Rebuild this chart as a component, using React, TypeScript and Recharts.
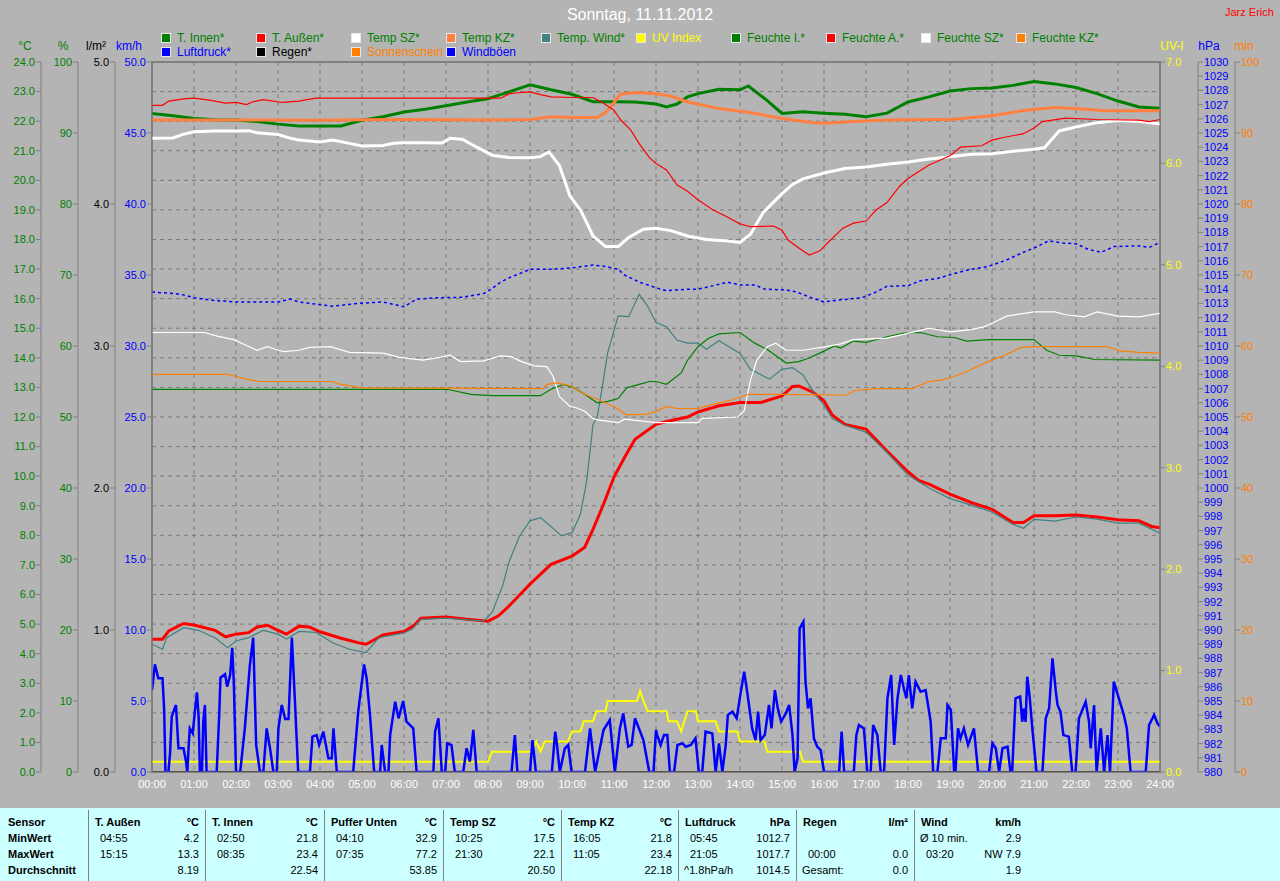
import React from 'react';
import { LineChart, Line, XAxis, YAxis, CartesianGrid, ReferenceArea } from 'recharts';

type Pt = [number, number];

// hour of day -> value
const T_INNEN: Pt[] = [[0,22.26],[0.5,22.18],[1,22.09],[1.5,22.05],[2,22.04],[2.5,21.99],[3,21.9],[3.5,21.84],[4,21.84],[4.5,21.84],[5,22.03],[5.5,22.15],[6,22.31],[6.5,22.4],[7,22.52],[7.5,22.65],[8,22.76],[8.5,22.99],[9,23.23],[9.5,23.06],[10,22.91],[10.5,22.66],[11,22.66],[11.5,22.65],[12,22.58],[12.25,22.48],[12.5,22.58],[12.75,22.82],[13,22.93],[13.5,23.08],[14,23.06],[14.2,23.19],[14.6,22.75],[15,22.26],[15.5,22.32],[16,22.27],[16.5,22.23],[17,22.15],[17.5,22.27],[18,22.65],[18.5,22.82],[19,23.02],[19.5,23.1],[20,23.12],[20.5,23.21],[21,23.34],[21.5,23.26],[22,23.14],[22.5,22.93],[23,22.68],[23.5,22.48],[24,22.44]];

const T_AUSSEN: Pt[] = [[0,4.49],[0.25,4.49],[0.4,4.77],[0.75,5.02],[1,4.97],[1.5,4.79],[1.75,4.57],[2,4.66],[2.3,4.71],[2.5,4.9],[2.75,4.96],[3,4.79],[3.2,4.66],[3.5,4.93],[3.75,4.9],[4,4.74],[4.5,4.52],[5,4.34],[5.1,4.32],[5.5,4.63],[6,4.75],[6.25,4.97],[6.4,5.2],[7,5.24],[7.5,5.16],[8,5.1],[8.25,5.28],[8.5,5.61],[9,6.35],[9.5,7.02],[10,7.3],[10.3,7.59],[10.5,8.2],[10.75,9.05],[11,9.97],[11.25,10.63],[11.5,11.25],[12,11.75],[12.25,11.85],[12.75,12.0],[13,12.17],[13.5,12.38],[14,12.49],[14.5,12.49],[15,12.71],[15.25,13.03],[15.4,13.05],[15.75,12.83],[16,12.54],[16.2,12.06],[16.5,11.75],[17,11.59],[17.5,10.85],[18,10.15],[18.25,9.86],[18.5,9.73],[19,9.39],[19.5,9.11],[20,8.88],[20.5,8.43],[20.75,8.43],[21,8.66],[21.5,8.66],[22,8.69],[22.5,8.62],[23,8.53],[23.5,8.49],[23.8,8.3],[24,8.26]];

const TEMP_SZ: Pt[] = [[0,21.42],[0.5,21.43],[0.75,21.56],[1,21.64],[1.5,21.67],[2,21.67],[2.3,21.68],[2.5,21.61],[3,21.55],[3.3,21.42],[3.5,21.36],[4,21.3],[4.3,21.36],[4.7,21.25],[5,21.16],[5.5,21.18],[5.75,21.25],[6,21.27],[6.5,21.27],[6.9,21.26],[7.1,21.42],[7.4,21.38],[7.6,21.22],[7.8,21.07],[8.1,20.85],[8.5,20.77],[9,20.76],[9.25,20.8],[9.45,20.96],[9.7,20.5],[9.95,19.47],[10.2,19.0],[10.35,18.57],[10.5,18.12],[10.8,17.76],[11.1,17.76],[11.35,18.07],[11.7,18.35],[12,18.38],[12.35,18.3],[12.75,18.12],[13.2,18.0],[13.7,17.95],[14,17.9],[14.25,18.18],[14.55,18.91],[15,19.55],[15.25,19.86],[15.5,20.05],[16,20.25],[16.5,20.4],[17,20.45],[17.5,20.54],[18,20.62],[18.5,20.72],[19,20.8],[19.5,20.88],[20,20.9],[20.5,20.98],[21,21.05],[21.25,21.1],[21.4,21.35],[21.6,21.67],[22,21.8],[22.5,21.95],[23,22.02],[23.5,22.0],[24,21.9]];

const TEMP_KZ: Pt[] = [[0,22.04],[2,22.04],[4,22.03],[5,22.05],[6,22.06],[7,22.05],[8,22.04],[9,22.06],[9.5,22.15],[10,22.12],[10.6,22.12],[10.8,22.29],[11,22.63],[11.15,22.91],[11.5,22.97],[12,22.93],[12.35,22.85],[12.75,22.65],[13.5,22.43],[14.25,22.29],[15,22.09],[15.75,21.95],[16,21.93],[16.7,21.99],[17.5,22.04],[18.5,22.06],[19,22.06],[20,22.18],[20.8,22.37],[21.5,22.46],[22,22.43],[22.7,22.35],[24,22.35]];

const TEMP_WIND: Pt[] = [[0,4.32],[0.25,4.15],[0.35,4.54],[0.75,4.88],[1.1,4.79],[1.5,4.54],[1.8,4.2],[2,4.43],[2.3,4.54],[2.65,4.79],[3,4.66],[3.2,4.49],[3.5,4.75],[3.9,4.72],[4.3,4.37],[4.7,4.15],[5.1,4.04],[5.4,4.54],[6,4.7],[6.2,4.83],[6.4,5.16],[7,5.2],[7.9,5.1],[8.1,5.4],[8.35,6.3],[8.5,7.1],[8.75,7.98],[9,8.49],[9.25,8.6],[9.5,8.3],[9.75,7.98],[10,8.09],[10.2,8.71],[10.35,9.84],[10.5,11.75],[10.6,12.0],[10.7,12.83],[10.85,14.18],[11.1,15.42],[11.35,15.39],[11.6,16.15],[11.8,15.75],[12,15.19],[12.25,15.05],[12.5,14.6],[12.75,14.5],[13,14.5],[13.2,14.29],[13.5,14.58],[14,14.15],[14.25,13.61],[14.7,13.28],[15,13.61],[15.25,13.67],[15.5,13.42],[15.75,12.85],[16,12.4],[16.2,11.95],[16.5,11.72],[17,11.49],[17.5,10.8],[18,10.04],[18.5,9.6],[19,9.24],[19.5,9.02],[20,8.79],[20.5,8.37],[20.75,8.24],[21,8.54],[21.5,8.48],[22,8.62],[22.5,8.55],[23,8.41],[23.5,8.41],[24,8.07]];

const UV_INDEX: Pt[] = [[0,0.1],[8,0.1],[8.1,0.2],[9.05,0.2],[9.15,0.3],[9.25,0.2],[9.35,0.3],[9.9,0.3],[10,0.4],[10.2,0.4],[10.28,0.5],[10.5,0.5],[10.58,0.6],[10.8,0.6],[10.85,0.7],[11.55,0.7],[11.62,0.8],[11.7,0.7],[11.8,0.6],[12.25,0.6],[12.3,0.5],[12.5,0.5],[12.6,0.4],[12.75,0.6],[12.95,0.6],[13,0.5],[13.42,0.5],[13.5,0.4],[13.94,0.4],[14,0.3],[14.58,0.3],[14.65,0.2],[15.43,0.2],[15.5,0.1],[24,0.1]];

const FEUCHTE_I: Pt[] = [[0,53.9],[7,53.9],[7.1,53.8],[7.6,53.2],[8.1,53.0],[9.25,53.0],[9.5,53.9],[9.8,54.6],[10.05,54.1],[10.3,53.2],[10.6,52.0],[10.85,52.2],[11.1,52.6],[11.3,54.1],[11.6,54.6],[11.85,55.0],[12,55.0],[12.25,54.6],[12.6,56.2],[12.75,58.0],[13,59.9],[13.25,61.1],[13.5,61.7],[14,61.9],[14.35,60.4],[14.65,59.5],[15.1,57.6],[15.4,57.8],[15.6,58.2],[15.9,59.0],[16.25,60.0],[16.4,59.7],[16.7,60.7],[17,60.5],[17.5,61.3],[17.9,61.8],[18.3,61.9],[18.7,61.3],[19.1,61.2],[19.4,60.7],[19.9,60.9],[21,60.9],[21.3,59.4],[21.6,58.7],[22,58.6],[22.45,58.1],[24,58.0]];

const FEUCHTE_A: Pt[] = [[0,93.9],[0.25,93.9],[0.4,94.5],[0.75,94.8],[1,94.9],[1.4,94.6],[1.75,94.2],[2,94.3],[2.25,94.0],[2.4,94.4],[2.65,94.7],[3.1,94.3],[3.5,94.5],[3.9,94.9],[8.3,94.9],[8.5,95.5],[8.75,95.7],[9,95.8],[9.25,95.4],[9.5,95.1],[10,95.0],[10.5,95.0],[10.75,94.2],[11,93.2],[11.15,91.9],[11.4,90.4],[11.6,88.5],[11.85,86.5],[12,85.7],[12.25,84.8],[12.5,82.7],[12.75,81.8],[13,80.6],[13.35,79.2],[13.65,78.3],[14,77.2],[14.25,76.8],[14.8,76.9],[15,76.3],[15.15,74.9],[15.45,73.6],[15.65,72.8],[15.9,73.4],[16.15,74.9],[16.45,76.6],[16.7,77.3],[17,77.6],[17.25,79.2],[17.5,80.2],[17.8,82.5],[18,83.6],[18.5,85.5],[19,86.8],[19.25,88.0],[19.75,88.2],[20,89.0],[20.3,89.4],[20.75,89.9],[21,90.7],[21.2,91.6],[21.75,92.1],[22.5,91.9],[23.5,91.8],[23.75,91.6],[24,91.9]];

const FEUCHTE_SZ: Pt[] = [[0,61.9],[1.25,61.9],[1.55,61.4],[1.95,60.9],[2.2,60.2],[2.5,59.4],[2.75,59.9],[3,59.4],[3.15,59.2],[3.5,59.4],[3.75,59.8],[4.25,59.9],[4.7,59.1],[5.5,59.0],[5.9,58.4],[6.45,58.0],[6.85,58.4],[7.1,58.7],[7.35,57.8],[7.9,57.9],[8.3,58.6],[8.55,58.5],[8.8,57.8],[9.1,57.2],[9.4,57.1],[9.55,55.7],[9.7,52.9],[9.95,51.5],[10.1,51.3],[10.3,50.8],[10.5,49.8],[10.6,49.6],[11.1,49.2],[11.25,49.7],[12,49.2],[13,49.2],[13.1,49.8],[13.95,50.0],[14.1,50.9],[14.25,55.2],[14.4,58.0],[14.65,59.9],[14.85,60.4],[15.1,59.4],[15.5,59.4],[16.05,59.9],[16.4,60.3],[16.7,60.9],[17.5,61.1],[18.3,62.2],[18.5,62.5],[19,62.0],[19.5,62.3],[19.8,62.7],[20,63.2],[20.35,64.2],[21,64.8],[21.5,64.8],[21.75,64.4],[22.2,64.1],[22.5,64.8],[23,64.2],[23.5,64.1],[24,64.6]];

const FEUCHTE_KZ: Pt[] = [[0,56.0],[1.8,56.0],[2,55.7],[2.35,55.2],[2.6,55.0],[4.25,55.0],[4.5,54.6],[5,54.1],[9.3,54.0],[9.4,54.6],[9.65,54.8],[9.95,54.4],[10.3,53.2],[10.65,52.4],[11.05,51.3],[11.3,50.3],[11.8,50.4],[12,50.8],[12.25,51.5],[12.5,51.2],[13,51.2],[13.3,51.7],[13.8,52.4],[14.2,53.2],[14.75,53.2],[16.55,53.1],[16.7,53.7],[17.2,54.0],[18.1,54.0],[18.5,55.0],[18.8,55.2],[19.1,55.7],[19.4,56.4],[19.9,57.8],[20.3,58.7],[20.7,59.8],[21,59.9],[22.75,59.9],[23.05,59.3],[23.5,59.1],[24,59.0]];

const LUFTDRUCK: Pt[] = [[0,1013.8],[0.5,1013.7],[0.75,1013.6],[1,1013.4],[1.5,1013.2],[2,1013.1],[3,1013.1],[3.3,1013.3],[3.5,1013.1],[4.3,1012.8],[4.9,1013.0],[5.5,1013.1],[5.8,1012.9],[6,1012.76],[6.3,1013.3],[6.8,1013.4],[7.4,1013.43],[7.9,1013.7],[8.05,1013.95],[8.3,1014.5],[8.5,1014.8],[8.75,1015.1],[9,1015.4],[9.5,1015.4],[10,1015.5],[10.5,1015.7],[10.8,1015.6],[11.1,1015.4],[11.25,1015.0],[11.6,1014.5],[12,1014.1],[12.25,1013.9],[12.75,1014.0],[13,1014.0],[13.3,1014.2],[13.7,1014.5],[14,1014.3],[14.35,1014.3],[14.6,1014.0],[15.1,1013.95],[15.35,1013.8],[15.7,1013.4],[16,1013.1],[16.4,1013.25],[16.9,1013.4],[17.2,1013.75],[17.5,1014.2],[18,1014.25],[18.3,1014.6],[18.7,1014.75],[19.1,1015.1],[19.5,1015.4],[19.9,1015.6],[20.3,1016.0],[20.75,1016.6],[21,1016.9],[21.35,1017.4],[21.7,1017.25],[22,1017.2],[22.3,1016.8],[22.6,1016.6],[22.9,1017.0],[23.5,1017.05],[23.75,1016.95],[24,1017.3]];

const REGEN: Pt[] = [[0,0],[24,0]];
const SONNENSCHEIN: Pt[] = [[0,0],[24,0]];

const WINDBOEN: Pt[] = [[0,5.77],[0.07,7.58],[0.15,6.6],[0.25,6.6],[0.29,4.37],[0.32,0],[0.39,0],[0.43,1.32],[0.47,3.9],[0.57,4.72],[0.63,1.67],[0.75,1.67],[0.81,0.73],[0.84,0],[0.87,1.67],[0.9,3.07],[0.97,2.72],[1.02,4.25],[1.07,5.61],[1.11,3.9],[1.14,0],[1.19,0],[1.22,3.54],[1.26,4.72],[1.3,0],[1.54,0],[1.6,4.01],[1.63,6.64],[1.74,6.88],[1.79,6.01],[1.86,6.83],[1.91,8.75],[1.95,6.13],[2,0],[2.1,0],[2.21,3.07],[2.33,7.53],[2.41,9.46],[2.48,1.9],[2.57,0],[2.65,0],[2.73,3.07],[2.81,1.67],[2.89,0],[2.97,0],[3.01,3.07],[3.09,4.72],[3.17,3.73],[3.25,3.73],[3.33,9.46],[3.4,5.19],[3.48,0],[3.76,0],[3.82,2.49],[3.92,2.6],[3.98,1.9],[4.08,2.84],[4.2,0.96],[4.28,0.96],[4.32,3.07],[4.4,0],[4.79,0],[4.91,4.25],[5.05,7.58],[5.11,6.6],[5.19,4.01],[5.29,0],[5.43,0],[5.47,1.9],[5.55,0],[5.63,0],[5.67,2.6],[5.79,4.95],[5.87,3.78],[5.98,5.0],[6.06,3.54],[6.22,3.07],[6.3,0],[6.7,0],[6.74,2.84],[6.82,3.78],[6.9,0],[6.98,0],[7.03,2.02],[7.13,1.9],[7.21,0],[7.41,0],[7.49,1.67],[7.57,0.73],[7.65,2.96],[7.73,0],[8.56,0],[8.64,2.6],[8.7,0],[9,0],[9.06,2.25],[9.14,0],[9.52,0],[9.6,2.84],[9.63,2.25],[9.71,0],[9.83,1.67],[9.91,1.9],[9.99,0],[10.31,0],[10.43,3.07],[10.55,0],[10.75,2.96],[10.9,3.66],[11.02,0],[11.14,3.07],[11.22,4.13],[11.34,1.78],[11.42,1.9],[11.5,3.78],[11.7,2.25],[11.84,0],[11.94,0],[12,2.96],[12.03,2.6],[12.11,1.9],[12.19,2.6],[12.27,2.6],[12.33,0],[12.43,0],[12.51,1.9],[12.63,2.02],[12.71,1.78],[12.83,1.9],[12.94,2.37],[13.02,0],[13.1,0],[13.18,2.84],[13.34,2.72],[13.42,0],[13.5,2.02],[13.58,0],[13.66,1.9],[13.71,4.01],[13.82,4.25],[13.92,3.78],[14.02,5.66],[14.1,7.07],[14.17,5.66],[14.29,3.07],[14.37,2.25],[14.43,4.25],[14.49,2.25],[14.59,2.6],[14.69,4.72],[14.75,3.07],[14.83,5.77],[14.9,4.48],[14.98,3.54],[15.09,4.13],[15.17,4.72],[15.25,2.6],[15.3,0],[15.37,0.96],[15.42,10.12],[15.51,10.59],[15.56,6.36],[15.62,4.48],[15.68,5.19],[15.76,2.37],[15.84,1.78],[15.92,1.55],[16,0],[16.36,0],[16.42,2.84],[16.48,0],[16.71,0],[16.77,2.6],[16.83,3.31],[16.95,3.07],[17.03,0],[17.11,0],[17.17,3.31],[17.27,2.6],[17.35,0],[17.43,0],[17.51,5.19],[17.6,6.83],[17.67,1.9],[17.75,5.19],[17.83,6.83],[17.9,5.9],[17.96,5.19],[18.02,6.83],[18.1,4.48],[18.18,6.36],[18.3,5.66],[18.42,5.77],[18.54,3.54],[18.6,0],[18.7,0],[18.78,2.37],[18.9,2.37],[18.94,4.72],[19.02,4.37],[19.1,0],[19.13,0],[19.19,3.07],[19.25,2.37],[19.33,3.07],[19.43,1.9],[19.57,3.07],[19.67,0],[19.93,0],[20.01,2.02],[20.09,1.67],[20.17,0],[20.25,1.67],[20.37,1.78],[20.44,0],[20.48,0],[20.56,5.19],[20.67,5.31],[20.72,3.54],[20.76,4.48],[20.8,3.54],[20.84,6.71],[20.9,5.19],[20.96,3.07],[21.06,0],[21.2,0],[21.28,3.78],[21.36,4.48],[21.44,8.0],[21.52,5.66],[21.56,4.72],[21.63,4.25],[21.7,2.6],[21.83,2.49],[21.91,0],[21.99,0],[22.07,3.78],[22.23,4.95],[22.31,3.54],[22.35,1.67],[22.43,4.72],[22.49,0],[22.59,3.07],[22.67,0],[22.75,2.6],[22.81,0],[22.9,6.36],[23.02,5.19],[23.14,4.01],[23.21,3.07],[23.3,0],[23.66,0],[23.74,3.31],[23.86,4.01],[23.94,3.43],[24,3.2]];

const HOUR_TICKS = [0,1,2,3,4,5,6,7,8,9,10,11,12,13,14,15,16,17,18,19,20,21,22,23,24];
const TEMP_TICKS = [0,1,2,3,4,5,6,7,8,9,10,11,12,13,14,15,16,17,18,19,20,21,22,23,24];
const PCT_TICKS = [0,10,20,30,40,50,60,70,80,90,100];
const RAIN_TICKS = [0,1,2,3,4,5];
const KMH_TICKS = [0,5,10,15,20,25,30,35,40,45,50];
const UV_TICKS = [0,1,2,3,4,5,6,7];
const HPA_TICKS = [980,981,982,983,984,985,986,987,988,989,990,991,992,993,994,995,996,997,998,999,1000,1001,1002,1003,1004,1005,1006,1007,1008,1009,1010,1011,1012,1013,1014,1015,1016,1017,1018,1019,1020,1021,1022,1023,1024,1025,1026,1027,1028,1029,1030];
const MIN_TICKS = [0,10,20,30,40,50,60,70,80,90,100];

const LEGEND_ROW1 = [
  { name: 'T. Innen*', swatch: '#008000', text: '#008000' },
  { name: 'T. Außen*', swatch: '#FF0000', text: '#008000' },
  { name: 'Temp SZ*', swatch: '#FFFFFF', text: '#008000' },
  { name: 'Temp KZ*', swatch: '#FF8040', text: '#008000' },
  { name: 'Temp. Wind*', swatch: '#408080', text: '#008000' },
  { name: 'UV Index', swatch: '#FFFF00', text: '#FFFF00' },
  { name: 'Feuchte I.*', swatch: '#008000', text: '#008000' },
  { name: 'Feuchte A.*', swatch: '#FF0000', text: '#008000' },
  { name: 'Feuchte SZ*', swatch: '#FFFFFF', text: '#008000' },
  { name: 'Feuchte KZ*', swatch: '#FF8000', text: '#008000' },
];
const LEGEND_ROW2 = [
  { name: 'Luftdruck*', swatch: '#0000FF', text: '#0000FF' },
  { name: 'Regen*', swatch: '#000000', text: '#000000' },
  { name: 'Sonnenschein', swatch: '#FF8000', text: '#FF8000' },
  { name: 'Windböen', swatch: '#0000FF', text: '#0000FF' },
];

const UNIT_LABELS = [
  { text: '°C', x: 25, color: '#008000' },
  { text: '%', x: 63, color: '#008000' },
  { text: 'l/m²', x: 96, color: '#000000' },
  { text: 'km/h', x: 129, color: '#0000FF' },
  { text: 'UV-I', x: 1172, color: '#FFFF00' },
  { text: 'hPa', x: 1209, color: '#0000FF' },
  { text: 'min', x: 1244, color: '#FF8000' },
];

const ROW_LABELS = ['Sensor', 'MinWert', 'MaxWert', 'Durchschnitt'];
const TABLE_COLS = [
  { name: 'T. Außen', unit: '°C', rows: [['04:55', '4.2'], ['15:15', '13.3'], ['', '8.19']] },
  { name: 'T. Innen', unit: '°C', rows: [['02:50', '21.8'], ['08:35', '23.4'], ['', '22.54']] },
  { name: 'Puffer Unten', unit: '°C', rows: [['04:10', '32.9'], ['07:35', '77.2'], ['', '53.85']] },
  { name: 'Temp SZ', unit: '°C', rows: [['10:25', '17.5'], ['21:30', '22.1'], ['', '20.50']] },
  { name: 'Temp KZ', unit: '°C', rows: [['16:05', '21.8'], ['11:05', '23.4'], ['', '22.18']] },
  { name: 'Luftdruck', unit: 'hPa', rows: [['05:45', '1012.7'], ['21:05', '1017.7'], ['^1.8hPa/h', '1014.5']] },
  { name: 'Regen', unit: 'l/m²', rows: [['', ''], ['00:00', '0.0'], ['Gesamt:', '0.0']] },
  { name: 'Wind', unit: 'km/h', rows: [['Ø 10 min.', '2.9'], ['03:20', 'NW 7.9'], ['', '1.9']] },
];
const COL_EDGES = [88, 205, 324, 443, 561, 678, 796, 914, 1027];

const rows = (pts: Pt[]) => pts.map(([h, v]) => ({ h, v }));
const hourLabel = (h: number) => `${h < 10 ? '0' : ''}${h}:00`;
const fixed1 = (v: number) => v.toFixed(1);

const FONT = '"Liberation Sans", Arial, sans-serif';
const BG = '#B4B4B4';
const AXIS = '#808080';

// axis ids are prefixed so recharts stacks them innermost -> outermost
const Y_KMH = 'l1_kmh';
const Y_RAIN = 'l2_rain';
const Y_PCT = 'l3_pct';
const Y_TEMP = 'l4_temp';
const Y_UV = 'r1_uv';
const Y_HPA = 'r2_hpa';
const Y_MIN = 'r3_min';

function line(id: string, pts: Pt[], axis: string, color: string, width: number, dash?: string) {
  return (
    <Line
      key={id}
      data={rows(pts)}
      dataKey="v"
      yAxisId={axis}
      type="linear"
      stroke={color}
      strokeWidth={width}
      strokeDasharray={dash}
      dot={false}
      activeDot={false}
      isAnimationActive={false}
    />
  );
}

export default function App() {
  const tickFont = { fontSize: 11, fontFamily: FONT };
  const axisProps = { stroke: AXIS, tickSize: 5, tickMargin: 1, interval: 0 as const, allowDataOverflow: true };
  return (
    <div style={{ position: 'absolute', left: 0, top: 0, width: 1280, height: 881, background: BG, fontFamily: FONT, overflow: 'hidden' }}>
      <div style={{ position: 'absolute', left: 0, width: 1280, top: 6, textAlign: 'center', color: '#FFFFFF', fontSize: 16 }}>
        Sonntag, 11.11.2012
      </div>
      <div style={{ position: 'absolute', left: 1225, top: 6, color: '#FF0000', fontSize: 11 }}>Jarz Erich</div>

      {[LEGEND_ROW1, LEGEND_ROW2].map((row, r) =>
        row.map((item, i) => (
          <div key={item.name} style={{ position: 'absolute', left: 161 + i * 95, top: 31 + r * 14, height: 14, display: 'flex', alignItems: 'center', fontSize: 12, color: item.text, whiteSpace: 'nowrap' }}>
            <span style={{ display: 'inline-block', width: 8, height: 8, background: item.swatch, border: '1px solid #E8E8E8', marginRight: 6 }} />
            {item.name}
          </div>
        ))
      )}

      {UNIT_LABELS.map((u) => (
        <div key={u.text} style={{ position: 'absolute', left: u.x, top: 46, transform: 'translate(-50%, -50%)', color: u.color, fontSize: 12, whiteSpace: 'nowrap' }}>
          {u.text}
        </div>
      ))}

      <div style={{ position: 'absolute', left: 0, top: 0 }}>
        <LineChart width={1280} height={800} margin={{ top: 62, right: 8, bottom: 0, left: 4 }}>
          <CartesianGrid yAxisId={Y_TEMP} stroke="#7A7A7A" strokeDasharray="4 4" />
          <XAxis
            dataKey="h"
            type="number"
            domain={[0, 24]}
            ticks={HOUR_TICKS}
            interval={0}
            tickFormatter={hourLabel}
            tick={{ ...tickFont, fill: '#FFFFFF' }}
            tickLine={false}
            stroke={AXIS}
            height={28}
            allowDataOverflow
          />
          <YAxis yAxisId={Y_KMH} orientation="left" width={37} domain={[0, 50]} ticks={KMH_TICKS} tickFormatter={fixed1} tick={{ ...tickFont, fill: '#0000FF' }} {...axisProps} />
          <YAxis yAxisId={Y_RAIN} orientation="left" width={37} domain={[0, 5]} ticks={RAIN_TICKS} tickFormatter={fixed1} tick={{ ...tickFont, fill: '#000000' }} {...axisProps} />
          <YAxis yAxisId={Y_PCT} orientation="left" width={37} domain={[0, 100]} ticks={PCT_TICKS} tick={{ ...tickFont, fill: '#008000' }} {...axisProps} />
          <YAxis yAxisId={Y_TEMP} orientation="left" width={37} domain={[0, 24]} ticks={TEMP_TICKS} tickFormatter={fixed1} tick={{ ...tickFont, fill: '#008000' }} {...axisProps} />
          <YAxis yAxisId={Y_UV} orientation="right" width={38} domain={[0, 7]} ticks={UV_TICKS} tickFormatter={fixed1} tick={{ ...tickFont, fill: '#FFFF00' }} {...axisProps} />
          <YAxis yAxisId={Y_HPA} orientation="right" width={37} domain={[980, 1030]} ticks={HPA_TICKS} tick={{ ...tickFont, fill: '#0000FF' }} {...axisProps} />
          <YAxis yAxisId={Y_MIN} orientation="right" width={37} domain={[0, 100]} ticks={MIN_TICKS} tick={{ ...tickFont, fill: '#FF8000' }} {...axisProps} />

          <ReferenceArea yAxisId={Y_TEMP} x1={0} x2={24} y1={0} y2={24} fill="none" fillOpacity={0} stroke={AXIS} strokeWidth={2} ifOverflow="visible" />

          {line('tinnen', T_INNEN, Y_TEMP, '#008000', 3)}
          {line('taussen', T_AUSSEN, Y_TEMP, '#FF0000', 3)}
          {line('tsz', TEMP_SZ, Y_TEMP, '#FFFFFF', 3)}
          {line('tkz', TEMP_KZ, Y_TEMP, '#FF8040', 3)}
          {line('twind', TEMP_WIND, Y_TEMP, '#408080', 1.2)}
          {line('uv', UV_INDEX, Y_UV, '#FFFF00', 2)}
          {line('fi', FEUCHTE_I, Y_PCT, '#008000', 1.2)}
          {line('fa', FEUCHTE_A, Y_PCT, '#FF0000', 1.2)}
          {line('fsz', FEUCHTE_SZ, Y_PCT, '#FFFFFF', 1.2)}
          {line('fkz', FEUCHTE_KZ, Y_PCT, '#FF8000', 1.2)}
          {line('luft', LUFTDRUCK, Y_HPA, '#0000FF', 1.5, '3 3')}
          {line('sonne', SONNENSCHEIN, Y_MIN, '#FF8000', 1.5)}
          {line('regen', REGEN, Y_RAIN, '#000000', 1.5)}
          {line('boen', WINDBOEN, Y_KMH, '#0000FF', 2.5)}
        </LineChart>
      </div>

      <div style={{ position: 'absolute', left: 0, top: 808, width: 1280, height: 73, background: '#CCFFFF', fontSize: 11, color: '#000000' }}>
        {ROW_LABELS.map((label, r) => (
          <div key={label} style={{ position: 'absolute', left: 8, top: 6 + r * 16, lineHeight: '16px', fontWeight: 'bold' }}>{label}</div>
        ))}
        {TABLE_COLS.map((col, c) => {
          const left = COL_EDGES[c];
          const right = COL_EDGES[c + 1];
          return (
            <React.Fragment key={col.name}>
              <div style={{ position: 'absolute', left, top: 2, width: 1, height: 71, background: '#808080' }} />
              <div style={{ position: 'absolute', left: left + 7, top: 6, lineHeight: '16px', fontWeight: 'bold' }}>{col.name}</div>
              <div style={{ position: 'absolute', left, width: right - left - 6, top: 6, lineHeight: '16px', fontWeight: 'bold', textAlign: 'right' }}>{col.unit}</div>
              {col.rows.map((cells, r) => (
                <React.Fragment key={r}>
                  <div style={{ position: 'absolute', left: left + (/^\d/.test(cells[0]) ? 12 : 6), top: 22 + r * 16, lineHeight: '16px', whiteSpace: 'nowrap' }}>{cells[0]}</div>
                  <div style={{ position: 'absolute', left, width: right - left - 6, top: 22 + r * 16, lineHeight: '16px', textAlign: 'right', whiteSpace: 'nowrap' }}>{cells[1]}</div>
                </React.Fragment>
              ))}
            </React.Fragment>
          );
        })}
      </div>
    </div>
  );
}
